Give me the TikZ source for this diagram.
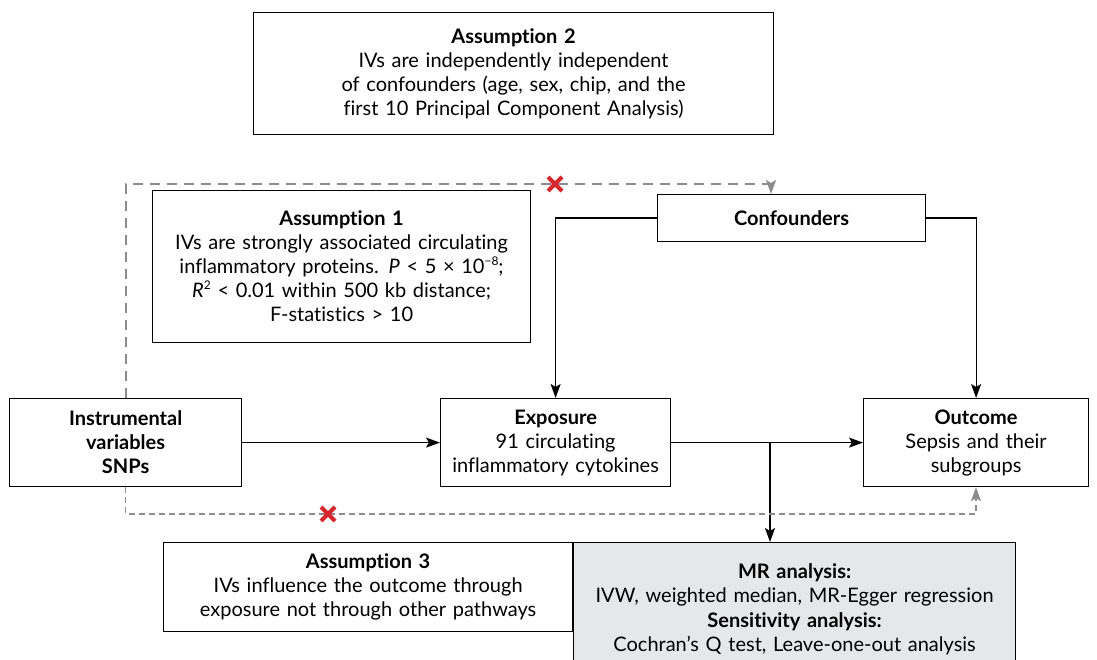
\documentclass[tikz,border=0pt]{standalone}
\usepackage{fontspec}
\setmainfont{Lato}[Ligatures=NoCommon]
\usetikzlibrary{arrows.meta,positioning}
\definecolor{dashgray}{HTML}{8C8C8C}
\definecolor{crossred}{HTML}{D7262B}
\definecolor{boxgray}{HTML}{E6E7E8}
\newcommand{\smallsup}[1]{\raisebox{0.85ex}{\fontsize{12}{12}\selectfont #1}}

\begin{document}
\begin{tikzpicture}[x=1pt,y=-1pt,
    box/.style={draw, line width=1.2pt, inner sep=0pt, align=center, anchor=north west,
        font=\fontsize{20}{24}\selectfont},
    link/.style={line width=1.2pt, -{Stealth[length=14pt,width=10pt,inset=3pt]}},
    hidden/.style={dashgray, line width=2pt, dash pattern=on 10pt off 7pt,
        -{Stealth[length=14pt,width=10pt,inset=3pt]}},
    hiddenthin/.style={dashgray, line width=1.2pt, dash pattern=on 6pt off 4pt,
        -{Stealth[length=14pt,width=10pt,inset=3pt]}},
    cross/.style={crossred, line width=4pt}]

    \useasboundingbox (0,0) rectangle (1097,660);
    \clip (0,0) rectangle (1097,660);

    % Draw the boxes.
    \node[box, text width=520pt, minimum height=122pt] (asm2) at (253,12)
        {\textbf{Assumption 2}\\IVs are independently independent\\of confounders (age, sex, chip, and the\\first 10 Principal Component Analysis)};
    \node[box, text width=268pt, minimum height=47pt] (conf) at (657,194)
        {\textbf{Confounders}};
    \node[box, text width=378pt, minimum height=152pt] (asm1) at (152,190)
        {\textbf{Assumption 1}\\IVs are strongly associated circulating\\inflammatory proteins. \textit{P} < 5 × 10\smallsup{−8};\\\textit{R}\smallsup{2} < 0.01 within 500 kb distance;\\F-statistics > 10};
    \node[box, text width=232pt, minimum height=88pt] (iv) at (9,398)
        {\textbf{Instrumental}\\\textbf{variables}\\\textbf{SNPs}};
    \node[box, text width=230pt, minimum height=88pt] (exp) at (440,398)
        {\textbf{Exposure}\\91 circulating\\inflammatory cytokines};
    \node[box, text width=225pt, minimum height=88pt] (out) at (863,398)
        {\textbf{Outcome}\\Sepsis and their\\subgroups};
    \node[box, text width=409pt, minimum height=89pt] (asm3) at (163,542)
        {\textbf{Assumption 3}\\IVs influence the outcome through\\exposure not through other pathways};
    \node[box, fill=boxgray, text width=442pt, minimum height=133pt,
        font=\fontsize{20}{24.5}\selectfont] (mr) at (573,542)
        {\textbf{MR analysis:}\\IVW, weighted median, MR-Egger regression\\\textbf{Sensitivity analysis:}\\Cochran’s Q test, Leave-one-out analysis};

    % Draw the causal links.
    \draw[link] (iv) -- (exp);
    \draw[link] (exp) -- (out);
    \draw[link] (conf.west) -| (exp.north);
    \draw[link] (conf.east) -| (out.north);
    \coordinate (split) at (770,442);
    \draw[link] (split) -- (split |- mr.north);

    % Draw the violated paths.
    \coordinate (topbend) at (771,184);
    \draw[hidden] (iv.north) |- (topbend) -- (topbend |- conf.north);
    \coordinate (lowbend) at (976,514);
    \draw[hiddenthin] (iv.south) |- (lowbend) -- (lowbend |- out.south);

    % Draw the crosses.
    \foreach \x/\y in {555/184, 328/514}
    {
        \draw[cross] (\x-7,\y-7) -- (\x+7,\y+7);
        \draw[cross] (\x-7,\y+7) -- (\x+7,\y-7);
    }
\end{tikzpicture}
\end{document}
